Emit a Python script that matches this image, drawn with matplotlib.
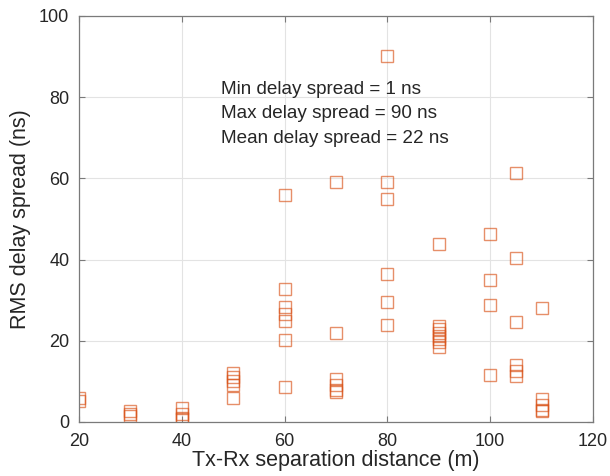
import matplotlib
matplotlib.use("Agg")
import matplotlib.pyplot as plt

plt.rcParams['font.family'] = ['Liberation Sans', 'DejaVu Sans']

# distance (m) and RMS delay spread (ns)
dist_20 = [6.0, 5.2]
dist_30 = [2.8, 2.0, 1.5]
dist_40 = [3.5, 2.0, 1.0, 0.8]
dist_50 = [12.0, 11.0, 10.0, 9.0, 5.8]
dist_60 = [56.0, 32.7, 28.3, 26.6, 25.0, 20.2, 8.5]
dist_70 = [59.0, 22.0, 10.5, 9.0, 8.0, 7.5]
dist_80 = [90.1, 59.1, 54.9, 36.5, 29.6, 23.9]
dist_90 = [43.9, 23.6, 22.8, 22.0, 21.2, 20.4, 19.8, 18.4]
dist_100 = [46.3, 35.0, 28.8, 11.5]
dist_105 = [61.3, 40.5, 24.6, 14.1, 12.6, 11.3]
dist_110 = [28.0, 5.6, 4.3, 3.0, 2.6]

groups = {20: dist_20, 30: dist_30, 40: dist_40, 50: dist_50, 60: dist_60,
          70: dist_70, 80: dist_80, 90: dist_90, 100: dist_100,
          105: dist_105, 110: dist_110}

xs = []
ys = []
for d, vals in groups.items():
    for v in vals:
        xs.append(d)
        ys.append(v)

fig = plt.figure(figsize=(6.10, 4.76), dpi=100)
ax = fig.add_axes([79 / 610, (476 - 422) / 476, 514 / 610, 406 / 476])

ax.plot(xs, ys, linestyle='none', marker='s', markersize=9,
        markerfacecolor='none', markeredgecolor=(0.85, 0.325, 0.098, 0.65),
        markeredgewidth=1.0)

ax.set_xlim(20, 120)
ax.set_ylim(0, 100)
ax.set_xticks([20, 40, 60, 80, 100, 120])
ax.set_yticks([0, 20, 40, 60, 80, 100])
ax.grid(True, color='#e3e3e3', linewidth=0.8)
ax.set_axisbelow(True)

for s in ax.spines.values():
    s.set_color('#7a7a7a')
    s.set_linewidth(0.9)
ax.tick_params(direction='in', top=True, right=True, length=4,
               labelsize=13, labelcolor='#262626', color='#7a7a7a')
ax.tick_params(axis='x', pad=8)
ax.tick_params(axis='y', pad=7)

ax.set_xlabel('Tx-Rx separation distance (m)', fontsize=15.5, color='#262626', labelpad=0)
ax.set_ylabel('RMS delay spread (ns)', fontsize=15.5, color='#262626', labelpad=6)

ax.text(47.6, 75.9, 'Min delay spread = 1 ns\nMax delay spread = 90 ns\nMean delay spread = 22 ns',
        fontsize=13.6, color='#262626', va='center', ha='left', linespacing=1.57)

fig.savefig('out.png', dpi=100)
